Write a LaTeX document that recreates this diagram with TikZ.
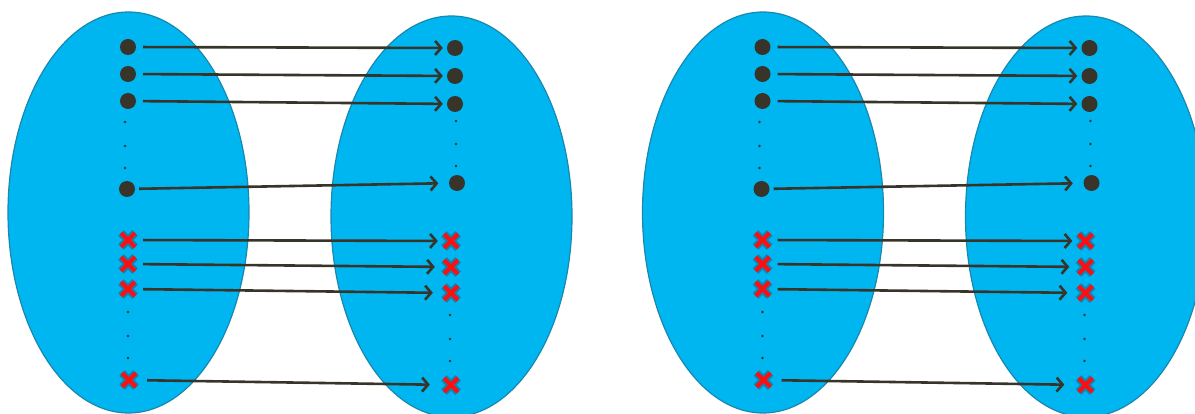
\documentclass[tikz,border=0pt]{standalone}
\usetikzlibrary{arrows.meta}
\definecolor{setfill}{RGB}{0,182,240}
\definecolor{setedge}{RGB}{25,135,175}
\definecolor{ink}{RGB}{56,52,42}
\definecolor{xred}{RGB}{252,15,15}
\definecolor{xglow}{RGB}{35,95,135}
\tikzset{
  setshape/.style={fill=setfill, draw=setedge, line width=1.2pt},
  dotnode/.style={circle, fill=ink, inner sep=0pt, minimum size=16pt},
  smalldot/.style={circle, fill=ink, inner sep=0pt, minimum size=2.8pt},
  xnode/.style={rectangle, inner sep=0pt, minimum size=20pt},
  xglowline/.style={draw=xglow, opacity=0.6, line width=8pt},
  xredline/.style={draw=xred, line width=4pt},
  maparrow/.style={draw=ink, line width=2.6pt, -{Straight Barb[length=6pt,width=14pt,line width=2.6pt]}},
}
\newcommand{\xcross}[2]{%
  \node[xnode] (#1) at #2 {};
  \draw[xglowline] ([shift={(-7pt,7pt)}]#1.center) -- ([shift={(7pt,-7pt)}]#1.center)
                   ([shift={(-7pt,-7pt)}]#1.center) -- ([shift={(7pt,7pt)}]#1.center);
  \draw[xredline] ([shift={(-7pt,7pt)}]#1.center) -- ([shift={(7pt,-7pt)}]#1.center)
                  ([shift={(-7pt,-7pt)}]#1.center) -- ([shift={(7pt,7pt)}]#1.center);
}
\begin{document}
\begin{tikzpicture}[x=1pt,y=-1pt]
\useasboundingbox (0,0) rectangle (1195,414);
\clip (0,0) rectangle (1195,414);
\foreach \k/\dx in {a/0, b/634.5}{
 \begin{scope}[xshift=\dx]
  % sets
  \path[setshape] (128.5,212.5) ellipse [x radius=120.5, y radius=200.5];
  \path[setshape] (451.5,216.5) ellipse [x radius=120.5, y radius=200.5];
  % left elements
  \node[dotnode] (\k L1) at (128,47) {};
  \node[dotnode] (\k L2) at (128,74) {};
  \node[dotnode] (\k L3) at (128,101) {};
  \node[dotnode] (\k L4) at (127,189) {};
  \node[smalldot] (\k ls1) at (125,122) {};
  \node[smalldot] (\k ls2) at (125,146) {};
  \node[smalldot] (\k ls3) at (125,168) {};
  \node[smalldot] (\k ls4) at (128,312) {};
  \node[smalldot] (\k ls5) at (128,336) {};
  \node[smalldot] (\k ls6) at (128,358) {};
  \xcross{\k LX1}{(128,240)}
  \xcross{\k LX2}{(128,264)}
  \xcross{\k LX3}{(128,289)}
  \xcross{\k LX4}{(129,380)}
  % right elements
  \node[dotnode] (\k R1) at (455,48) {};
  \node[dotnode] (\k R2) at (455,76) {};
  \node[dotnode] (\k R3) at (455,104) {};
  \node[dotnode] (\k R4) at (457,183) {};
  \node[smalldot] (\k rs1) at (456,121) {};
  \node[smalldot] (\k rs2) at (456,144) {};
  \node[smalldot] (\k rs3) at (456,166) {};
  \node[smalldot] (\k rs4) at (450,315) {};
  \node[smalldot] (\k rs5) at (450,339) {};
  \node[smalldot] (\k rs6) at (450,361) {};
  \xcross{\k RX1}{(451,241)}
  \xcross{\k RX2}{(451,267)}
  \xcross{\k RX3}{(451,293)}
  \xcross{\k RX4}{(451,385)}
  % mapping arrows
  \draw[maparrow, shorten <=7pt, shorten >=4pt] (\k L1) -- (\k R1);
  \draw[maparrow, shorten <=7pt, shorten >=4pt] (\k L2) -- (\k R2);
  \draw[maparrow, shorten <=7pt, shorten >=4pt] (\k L3) -- (\k R3);
  \draw[maparrow, shorten <=4pt, shorten >=10.5pt] (\k L4) -- (\k R4);
  \draw[maparrow, shorten <=5pt, shorten >=3pt] (\k LX1) -- (\k RX1);
  \draw[maparrow, shorten <=5pt, shorten >=6pt] (\k LX2) -- (\k RX2);
  \draw[maparrow, shorten <=5pt, shorten >=8pt] (\k LX3) -- (\k RX3);
  \draw[maparrow, shorten <=8pt, shorten >=11pt] (\k LX4) -- (\k RX4);
 \end{scope}
}
\end{tikzpicture}
\end{document}
